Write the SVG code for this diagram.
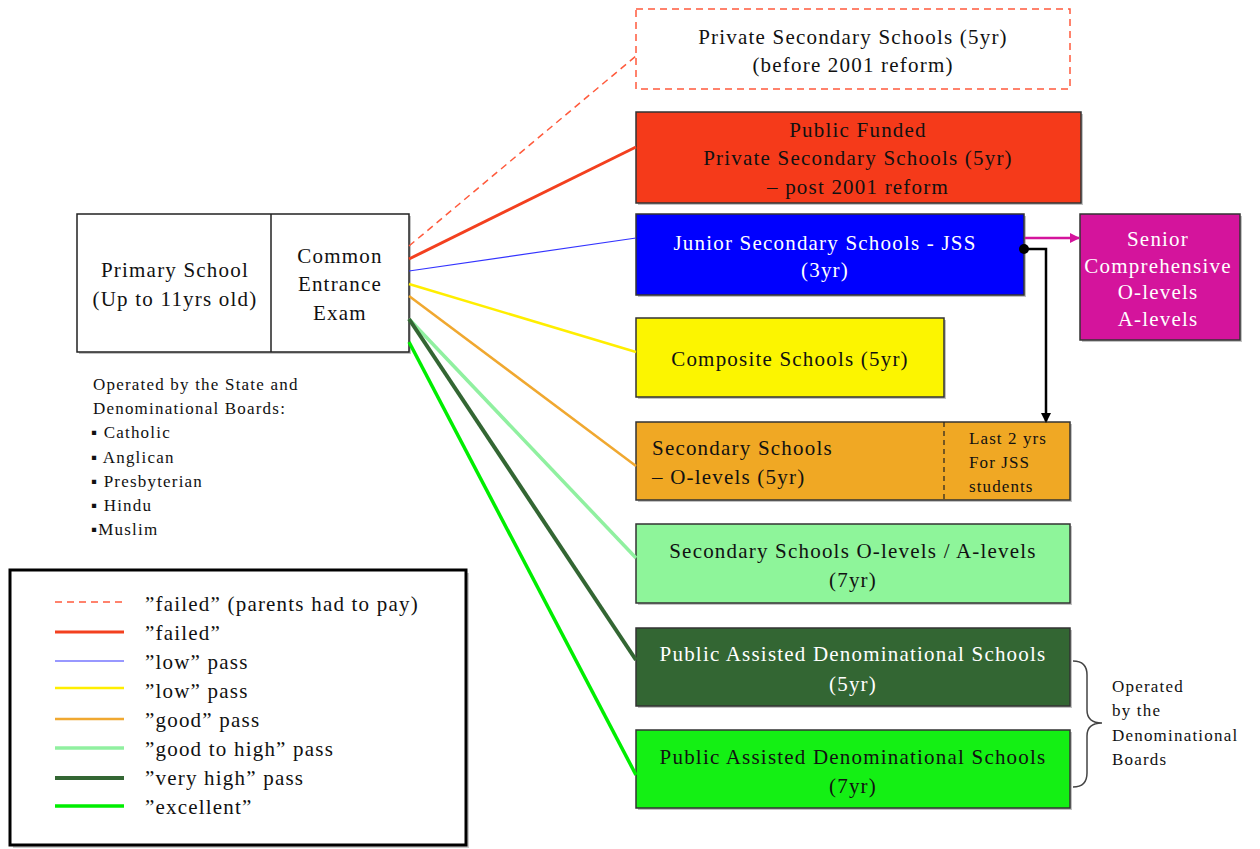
<svg xmlns="http://www.w3.org/2000/svg" width="1260" height="849" viewBox="0 0 1260 849">
<style>
text{font-family:"Liberation Serif","Times New Roman",serif;font-size:21px;letter-spacing:1.2px;fill:#111}
.c{text-anchor:middle}
.w{fill:#fff}
.s{font-size:17px;letter-spacing:1.2px}
.sm{font-size:17px;letter-spacing:1.1px}
.box{stroke:#333;stroke-width:1.5}
.sh{fill:#9a9a9a;opacity:0.6}
</style>
<defs>
<marker id="ab" markerWidth="10" markerHeight="10" refX="8" refY="5" orient="auto" markerUnits="userSpaceOnUse"><path d="M0,0 L10,5 L0,10 Z" fill="#000"/></marker>
<marker id="am" markerWidth="10" markerHeight="10" refX="9" refY="5" orient="auto" markerUnits="userSpaceOnUse"><path d="M0,0 L10,5 L0,10 Z" fill="#d4149c"/></marker>
</defs>

<g id="primary">
<rect class="sh" x="79" y="216" width="332" height="138"/>
<rect x="77" y="214" width="332" height="138" fill="#fff" stroke="#222" stroke-width="1.5"/>
<line x1="271" y1="214" x2="271" y2="352" stroke="#222" stroke-width="1.5"/>
<text class="c" x="175" y="277">Primary School</text>
<text class="c" x="175" y="306">(Up to 11yrs old)</text>
<text class="c" x="340" y="263">Common</text>
<text class="c" x="340" y="291">Entrance</text>
<text class="c" x="340" y="320">Exam</text>
</g>

<g id="operated-note">
<text class="s" x="93" y="390">Operated by the State and</text>
<text class="s" x="93" y="414">Denominational Boards:</text>
<text class="s" x="91" y="438">▪ Catholic</text>
<text class="s" x="91" y="463">▪ Anglican</text>
<text class="s" x="91" y="487">▪ Presbyterian</text>
<text class="s" x="91" y="511">▪ Hindu</text>
<text class="s" x="91" y="535">▪Muslim</text>
</g>

<g id="private-before">
<rect x="636" y="9" width="434" height="80" fill="#fff" stroke="#ff5a3c" stroke-width="1.5" stroke-dasharray="7,5"/>
<text class="c" x="853" y="44">Private Secondary Schools (5yr)</text>
<text class="c" x="853" y="72">(before 2001 reform)</text>
</g>

<g id="private-post">
<rect class="sh" x="638" y="114" width="445" height="91"/>
<rect class="box" x="636" y="112" width="445" height="91" fill="#f53a1a"/>
<text class="c" x="858" y="137">Public Funded</text>
<text class="c" x="858" y="165">Private Secondary Schools (5yr)</text>
<text class="c" x="858" y="194">– post 2001 reform</text>
</g>

<g id="jss">
<rect class="sh" x="638" y="216" width="388" height="81"/>
<rect class="box" x="636" y="214" width="388" height="81" fill="#0000ff"/>
<text class="c w" x="825" y="250">Junior Secondary Schools - JSS</text>
<text class="c w" x="825" y="277">(3yr)</text>
</g>

<g id="senior">
<rect class="sh" x="1082" y="216" width="160" height="126"/>
<rect class="box" x="1080" y="214" width="160" height="126" fill="#d4149c"/>
<text class="c w" x="1158" y="246">Senior</text>
<text class="c w" x="1158" y="273">Comprehensive</text>
<text class="c w" x="1158" y="299">O-levels</text>
<text class="c w" x="1158" y="326">A-levels</text>
</g>

<g id="composite">
<rect class="sh" x="638" y="320" width="308" height="79"/>
<rect class="box" x="636" y="318" width="308" height="79" fill="#fcf500"/>
<text class="c" x="790" y="366">Composite Schools (5yr)</text>
</g>

<g id="secondary-olevels">
<rect class="sh" x="638" y="424" width="434" height="78"/>
<rect class="box" x="636" y="422" width="434" height="78" fill="#f0a824"/>
<line x1="944" y1="422" x2="944" y2="500" stroke="#222" stroke-width="1.2" stroke-dasharray="5,4"/>
<text x="652" y="455">Secondary Schools</text>
<text x="652" y="484">– O-levels (5yr)</text>
<text class="sm" x="969" y="444">Last 2 yrs</text>
<text class="sm" x="969" y="468">For JSS</text>
<text class="sm" x="969" y="492">students</text>
</g>

<g id="secondary-alevels">
<rect class="sh" x="638" y="526" width="434" height="79"/>
<rect class="box" x="636" y="524" width="434" height="79" fill="#8ef59a"/>
<text class="c" x="853" y="558">Secondary Schools O-levels / A-levels</text>
<text class="c" x="853" y="587">(7yr)</text>
</g>

<g id="denom-5yr">
<rect class="sh" x="638" y="630" width="434" height="78"/>
<rect class="box" x="636" y="628" width="434" height="78" fill="#336633"/>
<text class="c w" x="853" y="661">Public Assisted Denominational Schools</text>
<text class="c w" x="853" y="691">(5yr)</text>
</g>

<g id="denom-7yr">
<rect class="sh" x="638" y="732" width="434" height="78"/>
<rect class="box" x="636" y="730" width="434" height="78" fill="#14f014"/>
<text class="c" x="853" y="764">Public Assisted Denominational Schools</text>
<text class="c" x="853" y="793">(7yr)</text>
</g>

<g id="brace-note">
<path d="M1073,661 Q1087,661 1087,675 L1087,710 Q1087,723 1102,723 Q1087,723 1087,736 L1087,773 Q1087,787 1073,787" fill="none" stroke="#444" stroke-width="1.5"/>
<text class="s" x="1112" y="692">Operated</text>
<text class="s" x="1112" y="716">by the</text>
<text class="s" x="1112" y="741">Denominational</text>
<text class="s" x="1112" y="765">Boards</text>
</g>

<g id="legend">
<rect x="13" y="573" width="456" height="275" fill="#aaa" opacity="0.6"/>
<rect x="10" y="570" width="456" height="275" fill="#fff" stroke="#000" stroke-width="3"/>
<line x1="55" y1="602" x2="122" y2="602" stroke="#ff5a3c" stroke-width="1.5" stroke-dasharray="7,5"/>
<line x1="55" y1="632" x2="124" y2="632" stroke="#f3401f" stroke-width="3"/>
<line x1="55" y1="661" x2="124" y2="661" stroke="#3333ff" stroke-width="1.2"/>
<line x1="55" y1="688" x2="124" y2="688" stroke="#ffee00" stroke-width="2.5"/>
<line x1="55" y1="719" x2="124" y2="719" stroke="#f0a830" stroke-width="2.5"/>
<line x1="55" y1="748" x2="124" y2="748" stroke="#90f0a0" stroke-width="3.5"/>
<line x1="55" y1="778" x2="124" y2="778" stroke="#336633" stroke-width="4"/>
<line x1="55" y1="806" x2="124" y2="806" stroke="#00ee00" stroke-width="3.5"/>
<text x="145" y="611">”failed” (parents had to pay)</text>
<text x="145" y="640">”failed”</text>
<text x="145" y="669">”low” pass</text>
<text x="145" y="698">”low” pass</text>
<text x="145" y="727">”good” pass</text>
<text x="145" y="756">”good to high” pass</text>
<text x="145" y="785">”very high” pass</text>
<text x="145" y="814">”excellent”</text>
</g>

<g id="connectors">
<line x1="409" y1="246" x2="636" y2="56" stroke="#ff5a3c" stroke-width="1.5" stroke-dasharray="7,5"/>
<line x1="409" y1="259" x2="636" y2="147" stroke="#f3401f" stroke-width="3"/>
<line x1="409" y1="271" x2="636" y2="238" stroke="#3333ff" stroke-width="1.2"/>
<line x1="409" y1="284" x2="636" y2="352" stroke="#ffee00" stroke-width="2.5"/>
<line x1="409" y1="296" x2="636" y2="466" stroke="#f0a830" stroke-width="2.5"/>
<line x1="409" y1="319" x2="636" y2="558" stroke="#90f0a0" stroke-width="3.5"/>
<line x1="409" y1="319" x2="636" y2="660" stroke="#336633" stroke-width="4"/>
<line x1="409" y1="342" x2="636" y2="775" stroke="#00ee00" stroke-width="3.5"/>
<line x1="1025" y1="238" x2="1079" y2="238" stroke="#d4149c" stroke-width="2.5" marker-end="url(#am)"/>
<polyline points="1024,249 1046,249 1046,421" fill="none" stroke="#000" stroke-width="2.5" marker-end="url(#ab)"/>
<circle cx="1024" cy="249" r="5" fill="#000"/>
</g>
</svg>
